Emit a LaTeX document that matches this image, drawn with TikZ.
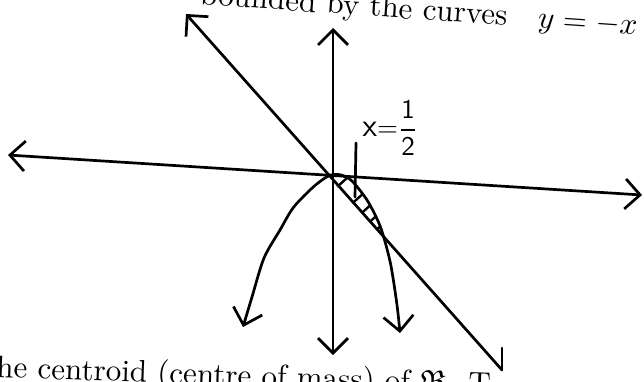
\documentclass[tikz,border=0pt]{standalone}
\usepackage{amsmath, amssymb}
\usepackage{tikz}
\usetikzlibrary{arrows.meta}

\begin{document}
\begin{tikzpicture}[x=1pt, y=-1pt, line width=2.7pt, line cap=round, line join=round,
        >={Straight Barb[length=15pt, width=30pt]},
        hatch/.style={line width=2.4pt},
        printed/.style={font=\normalsize, scale=3.1, inner sep=0pt}]
        \clip (0,0) rectangle (644,381);
        \coordinate (O) at (328,177);
        \coordinate (xl) at (8,155);
        \coordinate (xr) at (642,195);
        \coordinate (yt) at (333,28);
        \coordinate (yb) at (333,355);
        \coordinate (lt) at (186,14);
        \coordinate (lb) at (502,370);
        \coordinate (C) at (384,238);

        \draw[<->] (xl) -- (xr);
        \draw[<->] (yt) -- (yb);
        \draw[<-] (lt) -- (lb);
        \draw (lb) -- ++(0,-22);

        % parabola
        \draw[<->] plot[smooth] coordinates {(243,327) (252,297) (264,258) (280,230) (293,208)
            (310,190) (322,180) (331,175) (341,175) (352,181) (367,200) (378,221) (C)
            (391,266) (397,305) (400,333)};

        % shaded region
        \begin{scope}
            \clip (O) -- (C) plot[smooth] coordinates {(C) (378,221) (367,200) (352,181) (341,175) (331,175)} -- cycle;
            \foreach \t in {9,24,33,41,48}
                \draw[hatch] ({328+\t},{177+1.11*\t}) ++(-20,18) -- ++(40,-36);
        \end{scope}

        \draw (356,143) -- (355,197);
        \node[font=\sffamily, scale=2.7, anchor=west, inner sep=0pt] (half) at (359,128) {{\large x}=$\dfrac{\mathsf{1}}{\mathsf{2}}$};

        \node[printed, rotate=-4, anchor=base east] (top) at (641,35) {bounded by the curves\quad $y=-x$};
        \node[printed, rotate=-2, anchor=base west] (bottom) at (-8,377) {he centroid (centre of mass) of $\mathfrak{R}$. T};
    \end{tikzpicture}
\end{document}
